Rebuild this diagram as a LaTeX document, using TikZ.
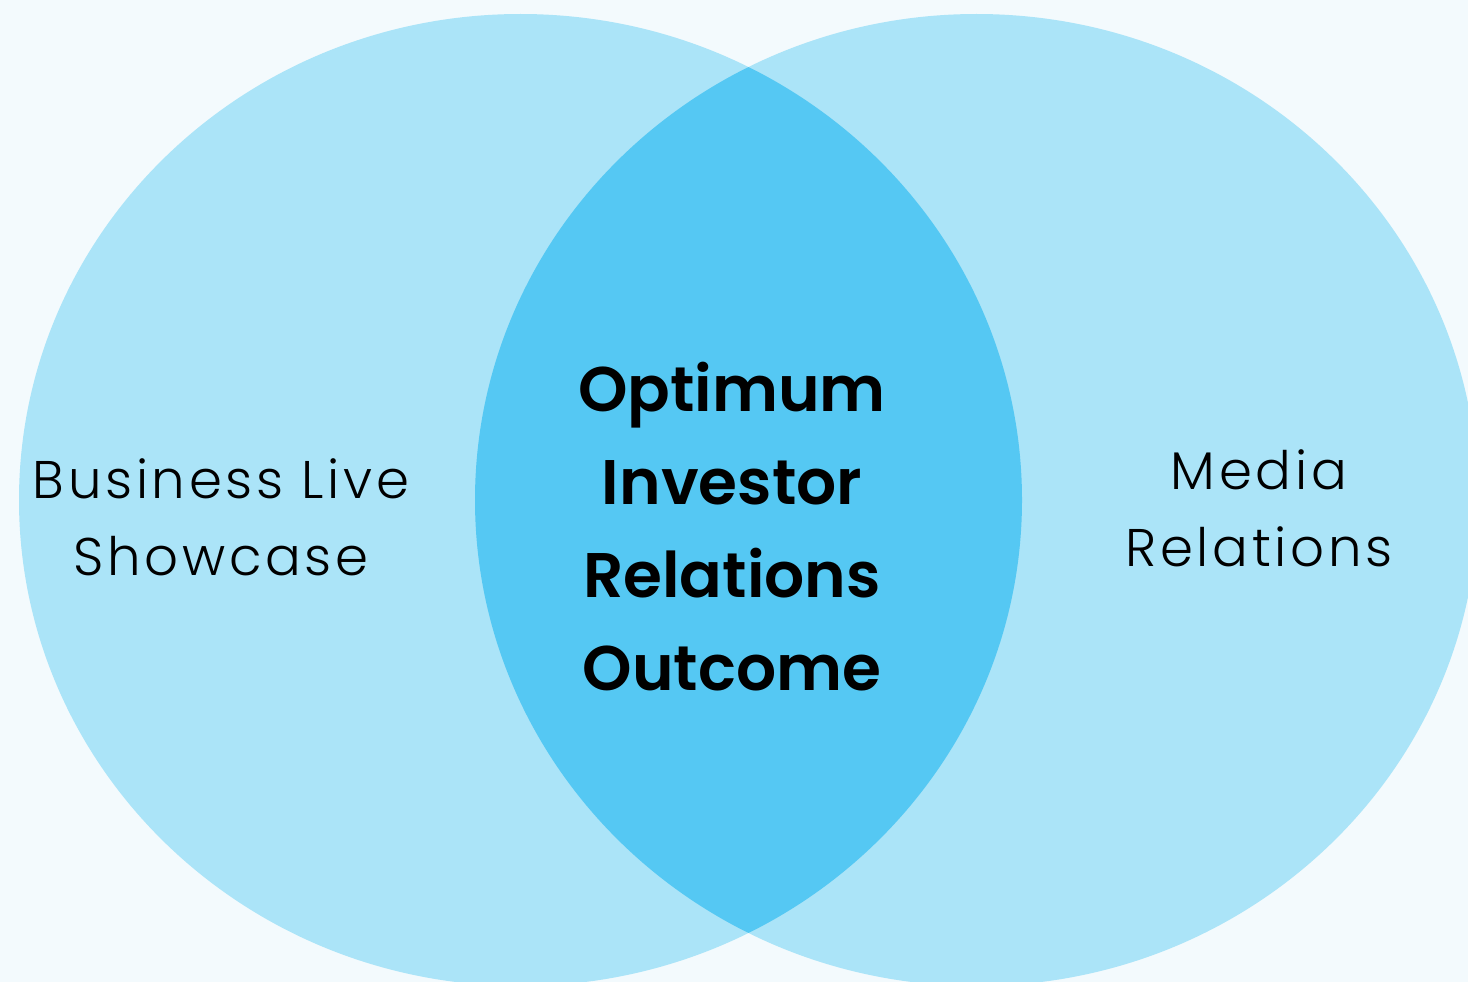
\documentclass[tikz,border=0pt]{standalone}
\usepackage{fontspec}
\setmainfont{Poppins}
\newfontfamily\sidefont{Poppins Light}[LetterSpace=7]
\newfontfamily\corefont{Poppins SemiBold}
\definecolor{pagebg}{HTML}{F3FAFD}
\definecolor{ringfill}{HTML}{ABE4F8}
\definecolor{lensfill}{HTML}{55C8F3}

\begin{document}
\begin{tikzpicture}[x=1pt,y=-1pt,
  ring/.style={x radius=501.5,y radius=486},
  side/.style={align=center,text=black,anchor=base,font=\sidefont\fontsize{53}{77}\selectfont},
  core/.style={align=center,text=black,anchor=base,font=\corefont\fontsize{63}{93}\selectfont}]
  \fill[pagebg] (0,0) rectangle (1468,982);
  \useasboundingbox (0,0) rectangle (1468,982);

  % the two sets
  \fill[ringfill] (520.5,500) ellipse [ring];
  \fill[ringfill] (976.5,500) ellipse [ring];
  % overlap
  \begin{scope}
    \clip (520.5,500) ellipse [ring];
    \fill[lensfill] (976.5,500) ellipse [ring];
  \end{scope}

  \node[side] (B) at (221,575) {Business Live\\Showcase};
  \node[core] (O) at (732,690) {Optimum\\Investor\\Relations\\Outcome};
  \node[side] (M) at (1259,566) {Media\\Relations};
\end{tikzpicture}
\end{document}
